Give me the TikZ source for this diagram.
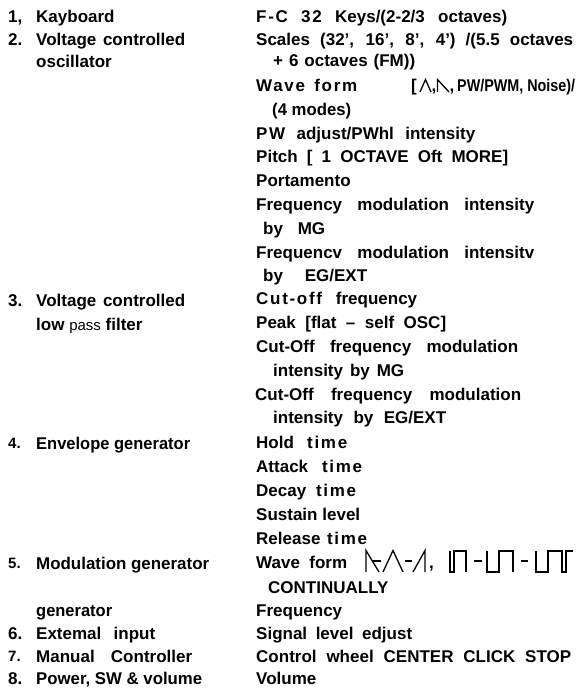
\documentclass[tikz,border=0pt]{standalone}
\usepackage{fontspec}
\setmainfont{Liberation Sans}
\usepackage{graphicx}

% Set a line to a given width: stretch its spaces when it is short,
% squeeze it horizontally when it is long.
\newsavebox\fitbox
\newcommand\fitto[2]{%
  \sbox\fitbox{#2}%
  \ifdim\wd\fitbox<#1\relax
    \makebox[#1][s]{#2}%
  \else
    \resizebox{#1}{\height}{\usebox\fitbox}%
  \fi}

% letter-spaced word
\newcommand\ls[1]{{\addfontfeature{LetterSpace=10}#1}}

% \tline{name}{x}{baseline y}{width}{text}
\newcommand\tline[5]{\node[txt] (#1) at (#2,#3) {\fitto{#4bp}{#5}};}
% \numlabel{name}{x}{baseline y}{text}
\newcommand\numlabel[4]{\node[txt] (#1) at (#2,#3) {#4};}

\tikzset{
  txt/.style={anchor=base west, inner sep=0pt,
    font=\fontsize{17bp}{20bp}\selectfont\bfseries},
  smallnum/.style={font=\fontsize{15bp}{18bp}\selectfont\bfseries},
  wave/.style={line width=1.3bp, line join=miter, line cap=butt},
}

\begin{document}
\begin{tikzpicture}[x=1bp, y=-1bp]
\useasboundingbox (0,0) rectangle (578,688);

% ---- left column: section numbers and names ----
\numlabel{n1}{8}{23}{1,}
\tline{l1}{36}{23}{79}{Kayboard}
\numlabel{n2}{8}{46}{2.}
\tline{l2}{36}{46}{149}{Voltage controlled}
\tline{l2b}{36}{68}{77}{oscillator}

\numlabel{n3}{8}{306}{3.}
\tline{l3}{36}{306}{149}{Voltage controlled}
\node[txt] (l3b) at (36,330) {low {\fontsize{15bp}{18bp}\selectfont\mdseries pass} filter};

\node[txt, smallnum] (n4) at (8,448) {4.};
\tline{l4}{36}{449}{154}{Envelope generator}

\node[txt, smallnum] (n5) at (8,568) {5.};
\tline{l5}{36}{569}{173}{Modulation generator}
\tline{l5b}{36}{616}{76}{generator}
\numlabel{n6}{8}{639}{6.}
\tline{l6}{36}{639}{119}{Extemal input}
\node[txt, smallnum] (n7) at (8,661) {7.};
\tline{l7}{36}{662}{156}{Manual Controller}
\numlabel{n8}{8}{684}{8.}
\tline{l8}{36}{684}{166}{Power, SW \& volume}

% ---- right column: features ----
\tline{r1}{256}{23}{251}{\ls{F-C} \ls{32} Keys/(2-2/3 octaves)}
\tline{r2}{256}{46}{317}{Scales (32’, 16’, 8’, 4’) /(5.5 octaves}
\tline{r3}{273}{67}{142}{+ 6 octaves (FM))}

\tline{r4}{256}{92}{101}{\ls{Wave} \ls{form}}
\node[txt] (r4br) at (411,92) {[};
\draw[wave] (420,92) -- (425.5,79.5) -- (431,92);
\node[txt] (r4c1) at (431.5,92) {,};
\draw[wave] (437.5,92) -- (437.5,79.5) -- (449,92);
\node[txt] (r4c2) at (449.5,92) {,};
\tline{r4d}{457}{92}{118}{PW/PWM, Noise)/}

\tline{r5}{272}{116}{79}{(4 modes)}
\tline{r6}{256}{139}{219}{\ls{PW} adjust/PWhl intensity}
\tline{r7}{256}{162}{252}{Pitch [ 1 OCTAVE Oft MORE]}
\tline{r8}{256}{186}{95}{Portamento}
\tline{r9}{256}{210}{278}{Frequency modulation intensity}
\tline{r10}{263}{234}{62}{by MG}
\tline{r11}{256}{258}{278}{Frequencv modulation intensitv}
\tline{r12}{263}{281}{104}{by EG/EXT}
\tline{r13}{256}{304}{161}{\ls{Cut-off} frequency}
\tline{r14}{256}{328}{190}{Peak [flat – self OSC]}
\tline{r15}{256}{352}{262}{Cut-Off frequency modulation}
\tline{r16}{273}{376}{131}{intensity by MG}
\tline{r17}{255}{400}{266}{Cut-Off frequency modulation}
\tline{r18}{273}{423}{173}{intensity by EG/EXT}
\tline{r19}{256}{448}{91}{Hold \ls{time}}
\tline{r20}{256}{472}{106}{Attack \ls{time}}
\tline{r21}{256}{496}{100}{Decay \ls{time}}
\tline{r22}{256}{520}{104}{Sustain level}
\tline{r23}{256}{544}{111}{Release \ls{time}}

% MG wave forms: saw down - triangle - saw up, square pulses
\tline{r24}{256}{568}{91}{Wave form}
\draw[wave] (366,572) -- (366,550.5) -- (379,572);
\draw[wave] (373,561) -- (381,561);
\draw[wave] (383,572) -- (393,550.5) -- (403,572);
\draw[wave] (405,561) -- (412,561);
\draw[wave] (413,572) -- (425,550.5) -- (425,572);
\node[txt] (r24c) at (429,568) {,};
\draw[wave] (450,551) -- (450,572) -- (454,572) -- (454,551) -- (466,551) -- (466,572);
\draw[wave] (474,561) -- (482,561);
\draw[wave] (487,551) -- (487,572) -- (499,572) -- (499,551) -- (513,551) -- (513,572);
\draw[wave] (521,561) -- (528,561);
\draw[wave] (536,551) -- (536,572) -- (548,572) -- (548,551) -- (562,551) -- (562,572) -- (566,572) -- (566,551) -- (573,551);

\tline{r25}{268}{593}{122}{CONTINUALLY}
\tline{r26}{256}{616}{86}{Frequency}
\tline{r27}{256}{639}{156}{Signal level edjust}
\tline{r28}{256}{662}{315}{Control wheel CENTER CLICK STOP}
\tline{r29}{256}{684}{61}{Volume}
\end{tikzpicture}
\end{document}
